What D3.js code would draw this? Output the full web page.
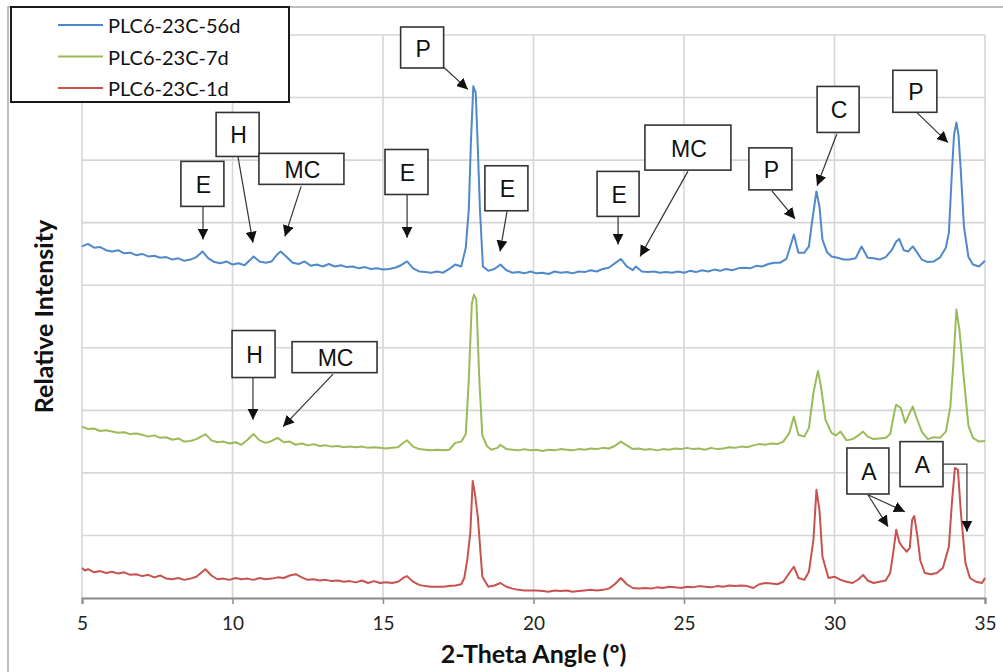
<!DOCTYPE html>
<html><head><meta charset="utf-8">
<script src="https://cdn.jsdelivr.net/npm/d3@7"></script>
<style>body{margin:0;background:#fff;} svg{display:block;}</style>
</head><body>
<svg id="chart" width="1003" height="672"></svg>
<script>
// ---------------- DATA ----------------
const seriesNames = ["PLC6-23C-56d", "PLC6-23C-7d", "PLC6-23C-1d"];
const xTickValues = [5, 10, 15, 20, 25, 30, 35];
const yGridValues = [0, 100, 200, 300, 400, 500, 600, 700, 800, 900];

// [2-theta (deg), relative intensity (offset)]
const data56d = [
[5.0,562],[5.2,566],[5.4,560],[5.6,561],[5.8,556],[6.0,554],[6.2,556],[6.4,551],[6.6,552],[6.8,548],
[7.0,550],[7.2,546],[7.4,547],[7.6,544],[7.8,545],[8.0,541],[8.2,543],[8.4,539],[8.6,541],[8.8,545],
[9.0,554],[9.2,543],[9.4,537],[9.6,535],[9.8,538],[10.0,533],[10.2,535],[10.4,532],[10.6,541],[10.7,546],
[10.9,538],[11.1,536],[11.3,538],[11.5,550],[11.6,554],[11.8,545],[12.0,536],[12.2,534],[12.4,538],[12.6,531],
[12.8,533],[13.0,530],[13.2,534],[13.4,530],[13.6,532],[13.8,529],[14.0,530],[14.2,527],[14.4,529],[14.6,526],
[14.8,527],[15.0,525],[15.2,526],[15.4,528],[15.6,532],[15.8,538],[16.0,527],[16.2,522],[16.4,521],[16.6,520],
[16.8,522],[17.0,520],[17.2,526],[17.4,533],[17.6,530],[17.75,560],[17.85,621],[17.92,728],[18.0,818],[18.08,808],
[18.15,720],[18.22,621],[18.32,530],[18.5,523],[18.7,526],[18.9,533],[19.1,524],[19.3,520],[19.5,521],[19.7,519],
[19.9,522],[20.1,519],[20.3,520],[20.5,518],[20.7,522],[20.9,520],[21.1,521],[21.3,519],[21.5,522],[21.7,521],
[21.9,524],[22.1,522],[22.3,526],[22.5,528],[22.7,535],[22.9,542],[23.1,530],[23.3,524],[23.4,530],[23.6,522],
[23.8,521],[24.0,522],[24.2,520],[24.4,521],[24.6,520],[24.8,522],[25.0,520],[25.2,523],[25.4,521],[25.6,524],
[25.8,522],[26.0,525],[26.2,523],[26.4,526],[26.6,524],[26.8,527],[27.0,528],[27.2,527],[27.4,531],[27.6,530],
[27.8,534],[28.0,536],[28.2,536],[28.4,542],[28.5,557],[28.65,581],[28.8,552],[29.0,552],[29.15,562],[29.25,600],
[29.4,650],[29.5,626],[29.6,573],[29.75,553],[29.9,546],[30.1,544],[30.3,541],[30.5,541],[30.7,543],[30.9,562],
[31.1,544],[31.3,543],[31.5,541],[31.7,545],[31.9,556],[32.05,570],[32.15,574],[32.3,556],[32.45,554],[32.6,562],
[32.75,552],[32.9,541],[33.1,537],[33.3,538],[33.5,544],[33.7,560],[33.8,584],[33.9,680],[33.97,740],[34.05,760],
[34.12,740],[34.2,680],[34.3,594],[34.45,545],[34.6,533],[34.8,530],[35.0,539]
];

const data7d = [
[5.0,274],[5.2,270],[5.4,271],[5.6,267],[5.8,268],[6.0,266],[6.2,264],[6.4,265],[6.6,262],[6.8,263],
[7.0,261],[7.2,258],[7.4,260],[7.6,256],[7.8,257],[8.0,253],[8.2,255],[8.4,250],[8.6,251],[8.8,254],
[9.0,259],[9.1,262],[9.3,252],[9.5,249],[9.7,250],[9.9,247],[10.1,249],[10.3,245],[10.5,253],[10.7,262],
[10.9,252],[11.1,248],[11.3,251],[11.5,256],[11.7,249],[11.9,250],[12.1,245],[12.3,247],[12.5,244],[12.7,246],
[12.9,243],[13.1,244],[13.3,242],[13.5,243],[13.7,241],[13.9,242],[14.1,241],[14.3,242],[14.5,240],[14.7,241],
[14.9,240],[15.1,239],[15.3,240],[15.5,241],[15.7,249],[15.8,252],[16.0,242],[16.2,238],[16.4,237],[16.6,236],
[16.8,237],[17.0,236],[17.2,237],[17.4,248],[17.6,250],[17.75,262],[17.85,349],[17.95,470],[18.02,485],[18.1,477],
[18.2,349],[18.3,260],[18.45,243],[18.6,237],[18.8,240],[18.9,245],[19.1,238],[19.3,237],[19.5,236],[19.7,238],
[19.9,236],[20.1,237],[20.3,235],[20.5,237],[20.7,236],[20.9,238],[21.1,237],[21.3,236],[21.5,238],[21.7,237],
[21.9,239],[22.1,238],[22.3,240],[22.5,239],[22.7,243],[22.9,250],[23.1,244],[23.3,238],[23.5,239],[23.7,237],
[23.9,238],[24.1,236],[24.3,238],[24.5,237],[24.7,239],[24.9,238],[25.1,240],[25.3,238],[25.5,239],[25.7,237],
[25.9,240],[26.1,238],[26.3,239],[26.5,241],[26.7,240],[26.9,242],[27.1,241],[27.3,244],[27.5,246],[27.7,245],
[27.9,247],[28.1,246],[28.3,250],[28.5,264],[28.65,290],[28.8,261],[29.0,258],[29.15,272],[29.3,328],[29.45,363],
[29.55,338],[29.7,285],[29.9,264],[30.05,260],[30.2,266],[30.4,252],[30.6,254],[30.8,260],[30.95,266],[31.1,258],
[31.3,254],[31.5,255],[31.7,256],[31.85,262],[32.0,300],[32.05,309],[32.2,304],[32.35,280],[32.5,296],[32.6,306],
[32.75,285],[32.9,266],[33.1,254],[33.3,257],[33.5,256],[33.7,266],[33.85,306],[33.95,376],[34.05,461],[34.15,429],
[34.3,349],[34.45,275],[34.6,256],[34.8,250],[35.0,251]
];

const data1d = [
[5.0,48],[5.1,44],[5.2,46],[5.4,41],[5.6,43],[5.8,40],[6.0,42],[6.2,39],[6.4,41],[6.6,37],
[6.8,38],[7.0,35],[7.2,37],[7.4,33],[7.6,36],[7.8,31],[8.0,30],[8.2,32],[8.4,29],[8.6,31],
[8.8,34],[9.0,42],[9.1,46],[9.3,36],[9.5,30],[9.7,31],[9.9,29],[10.1,32],[10.3,30],[10.5,31],
[10.7,29],[10.9,32],[11.1,30],[11.3,31],[11.5,33],[11.7,32],[11.9,36],[12.1,38],[12.3,33],[12.5,29],
[12.7,30],[12.9,28],[13.1,29],[13.3,27],[13.5,28],[13.7,26],[13.9,27],[14.1,25],[14.3,28],[14.5,24],
[14.7,27],[14.9,24],[15.1,25],[15.3,24],[15.5,26],[15.7,33],[15.8,35],[16.0,26],[16.2,21],[16.4,19],
[16.6,18],[16.8,18],[17.0,18],[17.2,19],[17.4,20],[17.6,22],[17.7,32],[17.8,61],[17.9,104],[17.98,187],
[18.05,168],[18.15,130],[18.3,34],[18.5,18],[18.7,20],[18.9,24],[19.1,18],[19.3,15],[19.5,13],[19.7,12],
[19.9,12],[20.1,12],[20.3,11],[20.5,10],[20.7,12],[20.9,11],[21.1,12],[21.3,10],[21.5,11],[21.7,12],
[21.9,13],[22.1,12],[22.3,13],[22.5,15],[22.7,22],[22.9,32],[23.1,22],[23.3,16],[23.5,15],[23.7,16],
[23.9,15],[24.1,17],[24.3,16],[24.5,18],[24.7,17],[24.9,16],[25.1,18],[25.3,17],[25.5,19],[25.7,18],
[25.9,17],[26.1,19],[26.3,18],[26.5,20],[26.7,19],[26.9,20],[27.1,19],[27.3,16],[27.5,22],[27.7,24],
[27.9,23],[28.1,22],[28.3,26],[28.5,40],[28.65,50],[28.8,32],[29.0,29],[29.15,42],[29.3,93],[29.4,173],
[29.5,141],[29.6,66],[29.8,32],[30.0,34],[30.2,29],[30.4,26],[30.6,24],[30.8,30],[30.95,37],[31.1,28],
[31.3,24],[31.5,26],[31.7,28],[31.85,40],[31.95,72],[32.05,109],[32.15,90],[32.25,82],[32.4,74],[32.5,80],
[32.58,125],[32.65,131],[32.75,100],[32.85,60],[33.0,40],[33.2,38],[33.4,40],[33.6,48],[33.8,82],[33.9,152],
[34.0,208],[34.1,205],[34.2,136],[34.35,56],[34.5,32],[34.7,26],[34.9,24],[35.0,32]
];

// Annotations (positions in data units: [2-theta, intensity])
const annLabels = ["P","E","H","MC","E","E","E","MC","P","C","P","H","MC","A","A"];
const annCenters = [[16.30,880],[9.00,662],[10.17,741],[12.29,686],[15.78,681],[19.10,655],[22.81,646],
  [25.13,720],[27.87,686],[30.12,781],[32.67,810],[10.70,390],[13.39,385],[31.11,203],[32.89,214]];
const annPaths = [
  [[[16.89,854],[17.82,813]]],
  [[[9.02,627],[9.02,573]]],
  [[[10.18,706],[10.68,568]]],
  [[[12.28,658],[11.74,578]]],
  [[[15.80,645],[15.80,576]]],
  [[[19.12,618],[18.89,554]]],
  [[[22.81,610],[22.81,565]]],
  [[[25.13,682],[23.54,546]]],
  [[[27.92,651],[28.69,606]]],
  [[[30.08,742],[29.42,659]]],
  [[[32.74,776],[33.77,728]]],
  [[[10.68,352],[10.68,285]]],
  [[[13.34,358],[11.68,274]]],
  [[[31.11,165],[31.78,114]],[[31.11,165],[32.34,138]]],
  [[[33.60,214],[34.40,214],[34.40,106]]]
];

// ---------------- STYLE / LAYOUT ----------------
const boxSizes = [[43,41],[43,45],[43,44],[85,31],[43,45],[43,45],[42,45],[86,45],[43,42],[42,46],[44,42],[43,47],[85,31],[42,46],[43,45]];
const colors = ["#4f89cc", "#9bbb59", "#c8524e"];
const margin = {left: 82, right: 1003 - 985, top: 35, bottom: 672 - 598};
const W = 1003, H = 672;
const uiFont = "Lato, 'Open Sans', sans-serif";

const svg = d3.select("#chart");
const x = d3.scaleLinear().domain([5, 35]).range([margin.left, W - margin.right]);
const y = d3.scaleLinear().domain([0, 900]).range([H - margin.bottom, margin.top]);

// outer chart frame
svg.append("rect").attr("x", 8).attr("y", 7).attr("width", 1100).attr("height", 800)
  .attr("fill", "none").attr("stroke", "#a9a9a9").attr("stroke-width", 1.5);

// gridlines
const grid = svg.append("g");
grid.selectAll("line.h").data(yGridValues.slice(1)).enter().append("line")
  .attr("x1", x(5)).attr("x2", x(35)).attr("y1", d => y(d)).attr("y2", d => y(d))
  .attr("stroke", "#d6d6d6").attr("stroke-width", 1.6);
grid.selectAll("line.v").data(xTickValues).enter().append("line")
  .attr("x1", d => x(d)).attr("x2", d => x(d)).attr("y1", y(0)).attr("y2", y(900))
  .attr("stroke", "#d6d6d6").attr("stroke-width", 1.6);

// x axis
const xAxis = d3.axisBottom(x).tickValues(xTickValues).tickSize(6).tickPadding(13).tickFormat(d3.format("d"));
const gx = svg.append("g").attr("transform", `translate(0,${y(0)})`).call(xAxis);
gx.select(".domain").attr("stroke", "#8a8a8a").attr("stroke-width", 2);
gx.selectAll(".tick line").attr("stroke", "#8a8a8a").attr("stroke-width", 1.5);
gx.selectAll(".tick text").attr("font-family", uiFont).attr("font-size", 19).attr("fill", "#222");

// axis titles
svg.append("text").attr("x", (x(5) + x(35)) / 2).attr("y", 663).attr("text-anchor", "middle")
  .attr("font-family", uiFont).attr("font-weight", "bold").attr("font-size", 25).attr("fill", "#111")
  .text("2-Theta Angle (º)");
svg.append("text").attr("transform", `translate(53,${(y(0) + y(900)) / 2}) rotate(-90)`).attr("text-anchor", "middle")
  .attr("font-family", uiFont).attr("font-weight", "bold").attr("font-size", 25).attr("fill", "#111")
  .text("Relative Intensity");

// series lines
const line = d3.line().x(d => x(d[0])).y(d => y(d[1]));
const allSeries = [data56d, data7d, data1d];
svg.append("g").selectAll("path").data(allSeries).enter().append("path")
  .attr("d", line).attr("fill", "none").attr("stroke", (d, i) => colors[i])
  .attr("stroke-width", 2).attr("stroke-linejoin", "round");

// arrow marker
svg.append("defs").append("marker").attr("id", "arrow")
  .attr("viewBox", "0 0 10 10").attr("refX", 10).attr("refY", 5)
  .attr("markerUnits", "userSpaceOnUse").attr("markerWidth", 11).attr("markerHeight", 11)
  .attr("orient", "auto")
  .append("path").attr("d", "M0,0 L10,5 L0,10 Z").attr("fill", "#111");

// annotations
const annG = svg.append("g");
const pathLine = d3.line().x(d => x(d[0])).y(d => y(d[1]));
annLabels.forEach((lab, i) => {
  annPaths[i].forEach(p => {
    annG.append("path").attr("d", pathLine(p)).attr("fill", "none")
      .attr("stroke", "#333").attr("stroke-width", 1.2).attr("marker-end", "url(#arrow)");
  });
});
annLabels.forEach((lab, i) => {
  const cx = x(annCenters[i][0]), cy = y(annCenters[i][1]);
  const [bw, bh] = boxSizes[i];
  annG.append("rect").attr("x", cx - bw / 2).attr("y", cy - bh / 2).attr("width", bw).attr("height", bh)
    .attr("fill", "#fff").attr("stroke", "#333").attr("stroke-width", 1.6);
  annG.append("text").attr("x", cx + 1).attr("y", cy + 1).attr("text-anchor", "middle")
    .attr("dominant-baseline", "central")
    .attr("font-family", "'Liberation Sans', Arial, sans-serif").attr("font-size", 23).attr("fill", "#111")
    .text(lab);
});

// legend
const lg = svg.append("g");
lg.append("rect").attr("x", 11).attr("y", 7).attr("width", 278).attr("height", 95)
  .attr("fill", "#fff").attr("stroke", "#1a1a1a").attr("stroke-width", 2);
seriesNames.forEach((name, i) => {
  const ly = 25 + i * 31.5;
  lg.append("line").attr("x1", 58).attr("x2", 103).attr("y1", ly).attr("y2", ly)
    .attr("stroke", colors[i]).attr("stroke-width", 2);
  lg.append("text").attr("x", 108).attr("y", ly).attr("dominant-baseline", "central")
    .attr("font-family", uiFont).attr("font-size", 20).attr("fill", "#111")
    .text(name);
});
</script>
</body></html>
